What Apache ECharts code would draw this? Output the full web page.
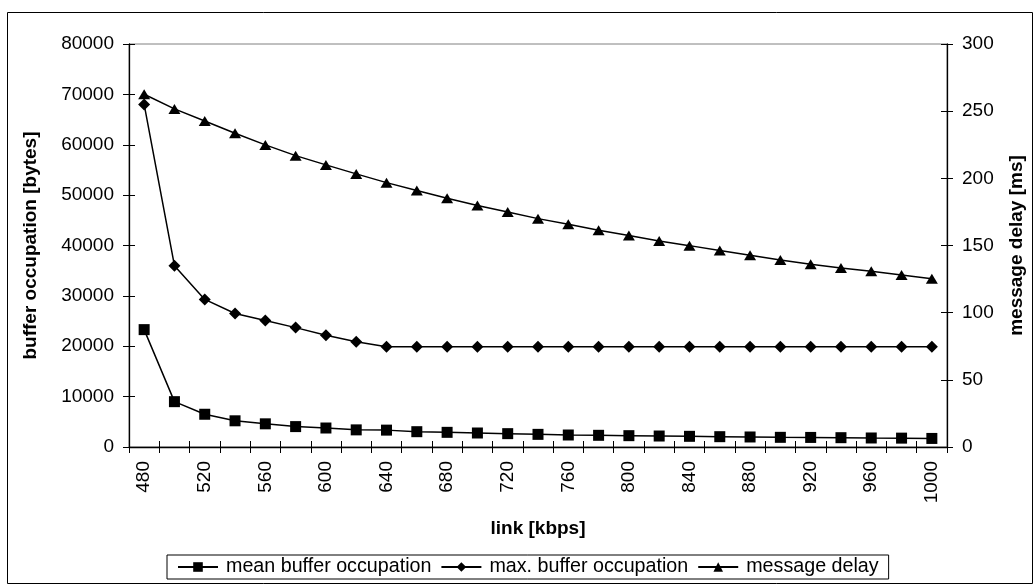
<!DOCTYPE html>
<html>
<head>
<meta charset="utf-8">
<script src="https://cdn.jsdelivr.net/npm/echarts@6/dist/echarts.min.js"></script>
<style>html,body{margin:0;padding:0;background:#fff;}#c{width:1036px;height:587px;}</style>
</head>
<body>
<div id="c"></div>
<script>
const categories = ['480','500','520','540','560','580','600','620','640','660','680','700','720','740','760','780','800','820','840','860','880','900','920','940','960','980','1000'];
const meanBuffer = [23300, 9000, 6500, 5200, 4600, 4050, 3770, 3400, 3350, 3040, 2910, 2780, 2650, 2510, 2380, 2320, 2250, 2180, 2120, 2050, 1990, 1920, 1900, 1850, 1790, 1760, 1700];
const maxBuffer = [68000, 36000, 29300, 26500, 25100, 23700, 22200, 20900, 19900, 19900, 19900, 19900, 19900, 19900, 19900, 19900, 19900, 19900, 19900, 19900, 19900, 19900, 19900, 19900, 19900, 19900, 19900];
const messageDelay = [262.6, 251.7, 242.7, 233.6, 224.9, 216.9, 210, 203.3, 196.8, 190.9, 185.2, 179.7, 175, 170, 165.8, 161.3, 157.4, 153.4, 149.9, 146.2, 142.7, 139.2, 136, 133.3, 130.8, 128.1, 125.3];
const leftTicks = {min: 0, max: 80000, interval: 10000};
const rightTicks = {min: 0, max: 300, interval: 50};

const FONT = 'Liberation Sans, Arial, sans-serif';
const chart = echarts.init(document.getElementById('c'));
const lineW = 1.5;
const axLine = {show: true, lineStyle: {color: '#000', width: 1.3}};
const tickOut = {show: true, inside: false, length: 6, lineStyle: {color: '#000', width: 1}};
const tickIn = {show: true, inside: true, length: 6, lineStyle: {color: '#000', width: 1}};
const plain = v => String(v);

chart.setOption({
  backgroundColor: '#fff',
  animation: false,
  graphic: [{
    type: 'rect', left: 5, top: 10, shape: {x: 0, y: 0, width: 1025, height: 571},
    style: {fill: 'none', stroke: '#000', lineWidth: 1}, silent: true, z: -1
  }],
  grid: {left: 129, right: 89, top: 44, bottom: 140, show: true, borderColor: '#808080', borderWidth: 1, backgroundColor: '#fff'},
  legend: {
    left: 167, top: 555,
    itemWidth: 40, itemHeight: 12, itemGap: 9,
    padding: [2, 10, 2, 10],
    borderColor: '#000', borderWidth: 1,
    textStyle: {fontFamily: FONT, fontSize: 19.7, color: '#000', padding: [0, 0, 0, 3]},
    data: ['mean buffer occupation', 'max. buffer occupation', 'message delay']
  },
  xAxis: [{
    type: 'category', data: categories, boundaryGap: true,
    name: 'link [kbps]', nameLocation: 'middle', nameGap: 72,
    nameTextStyle: {fontFamily: FONT, fontSize: 19, fontWeight: 'bold', color: '#000'},
    axisLine: axLine,
    axisTick: Object.assign({interval: 0}, tickOut),
    axisLabel: {interval: 1, rotate: 90, margin: 14, fontFamily: FONT, fontSize: 19, color: '#000'},
    splitLine: {show: false}
  }, {
    type: 'category', data: categories, boundaryGap: true, position: 'bottom',
    axisLine: {show: false},
    axisTick: Object.assign({interval: 0}, tickIn),
    axisLabel: {show: false}, splitLine: {show: false}
  }],
  yAxis: [{
    type: 'value', position: 'left', min: leftTicks.min, max: leftTicks.max, interval: leftTicks.interval,
    name: 'buffer occupation [bytes]', nameLocation: 'middle', nameGap: 89, nameRotate: 90,
    nameTextStyle: {fontFamily: FONT, fontSize: 19, fontWeight: 'bold', color: '#000'},
    axisLine: axLine, axisTick: tickOut,
    axisLabel: {margin: 15, fontFamily: FONT, fontSize: 19, color: '#000', formatter: plain},
    splitLine: {show: false}
  }, {
    type: 'value', position: 'right', min: rightTicks.min, max: rightTicks.max, interval: rightTicks.interval,
    name: 'message delay [ms]', nameLocation: 'middle', nameGap: 60, nameRotate: 90,
    nameTextStyle: {fontFamily: FONT, fontSize: 19, fontWeight: 'bold', color: '#000'},
    axisLine: axLine, axisTick: tickOut,
    axisLabel: {margin: 15, fontFamily: FONT, fontSize: 19, color: '#000', formatter: plain},
    splitLine: {show: false}
  }, {
    type: 'value', position: 'left', min: leftTicks.min, max: leftTicks.max, interval: leftTicks.interval,
    axisLine: {show: false}, axisTick: tickIn, axisLabel: {show: false}, splitLine: {show: false}
  }, {
    type: 'value', position: 'right', min: rightTicks.min, max: rightTicks.max, interval: rightTicks.interval,
    axisLine: {show: false}, axisTick: tickIn, axisLabel: {show: false}, splitLine: {show: false}
  }],
  series: [{
    name: 'mean buffer occupation', type: 'line', yAxisIndex: 0, data: meanBuffer,
    symbol: 'rect', symbolSize: 11, showAllSymbol: true,
    itemStyle: {color: '#000'}, lineStyle: {color: '#000', width: lineW}
  }, {
    name: 'max. buffer occupation', type: 'line', yAxisIndex: 0, data: maxBuffer,
    symbol: 'diamond', symbolSize: 12, showAllSymbol: true,
    itemStyle: {color: '#000'}, lineStyle: {color: '#000', width: lineW}
  }, {
    name: 'message delay', type: 'line', yAxisIndex: 1, data: messageDelay,
    symbol: 'triangle', symbolSize: [12, 10], showAllSymbol: true,
    itemStyle: {color: '#000'}, lineStyle: {color: '#000', width: lineW}
  }]
});
</script>
</body>
</html>
